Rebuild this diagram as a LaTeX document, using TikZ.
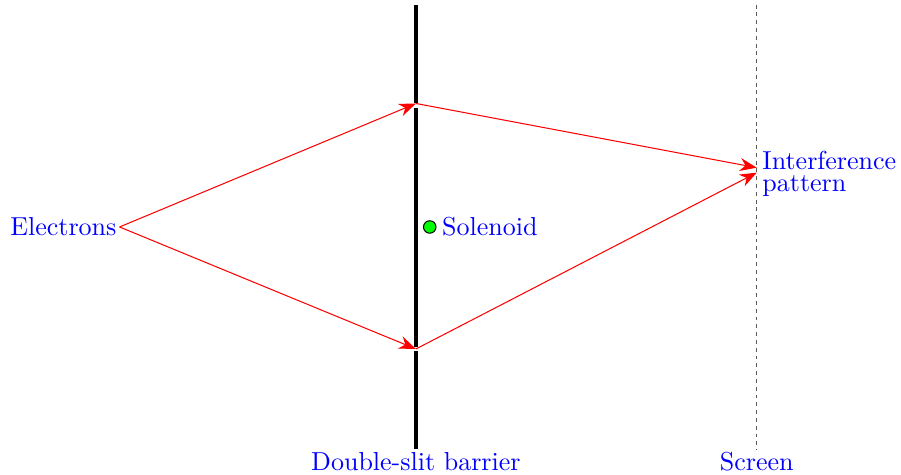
\documentclass[tikz,border=0pt]{standalone}
\usetikzlibrary{arrows.meta}
\begin{document}
\begin{tikzpicture}[x=0.668cm,y=0.668cm,
  lbl/.style={text=blue},
  ray/.style={red,-{Stealth[length=6.5pt,width=5pt]}},
  wall/.style={line width=1.6pt}]
\useasboundingbox (-8.42,-5.02) rectangle (9.82,4.595);
% barrier
\coordinate (bt) at (0,4.5);
\coordinate (bb) at (0,-4.5);
\coordinate (s1) at (0,2.5);
\coordinate (s2) at (0,-2.47);
\draw[wall] (bt) -- (0,2.5);
\draw[wall] (0,2.4) -- (0,-2.42);
\draw[wall] (0,-2.52) -- (bb);
% screen
\coordinate (st) at (6.9,4.5);
\coordinate (sb) at (6.9,-4.5);
\draw[black!65,dash pattern=on 1.5pt off 1.5pt] (st) -- (sb);
\coordinate (p1) at (6.9,1.2);
\coordinate (p2) at (6.9,1.1);
% nodes
\node[lbl,anchor=east,inner sep=1pt] (el) at (-6,0) {Electrons};
\coordinate (src) at (-6,0);
\node[circle,draw,fill=green,minimum size=4.8pt,inner sep=0pt] (sol) at (0.28,0) {};
\node[lbl,anchor=west,inner sep=2pt] (soll) at (sol.east) {Solenoid};
\node[lbl,anchor=west,align=left,inner sep=2pt] (ip) at (6.9,1.07) {Interference\\[-3.5pt]pattern};
\node[lbl,anchor=north,inner sep=1pt] (dsl) at (bb) {Double-slit barrier};
\node[lbl,anchor=north,inner sep=1pt] (scl) at (sb) {Screen};
% rays
\draw[ray] (src) -- (s1);
\draw[ray] (src) -- (s2);
\draw[ray] (s1) -- (p1);
\draw[ray] (s2) -- (p2);
\end{tikzpicture}
\end{document}
